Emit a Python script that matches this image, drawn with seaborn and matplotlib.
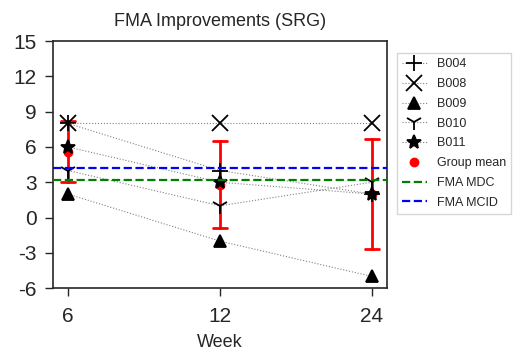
import pandas as pd
import numpy as np
import seaborn as sns
import matplotlib
matplotlib.use('Agg')
import matplotlib.pyplot as plt

weeks = ['6', '12', '24']
subjects = ['B004', 'B008', 'B009', 'B010', 'B011']
fma_b004 = [8, 4, 2]
fma_b008 = [8, 8, 8]
fma_b009 = [2, -2, -5]
fma_b010 = [4, 1, 3]
fma_b011 = [6, 3, 2]
fma_mdc = 3.2
fma_mcid = 4.25

markers = {'B004': '+', 'B008': 'x', 'B009': '^', 'B010': '1', 'B011': '*'}
marker_sizes = {'B004': 12, 'B008': 12, 'B009': 9, 'B010': 12, 'B011': 10}

values = [fma_b004, fma_b008, fma_b009, fma_b010, fma_b011]
df = pd.DataFrame({
    'subject': np.repeat(subjects, len(weeks)),
    'week': weeks * len(subjects),
    'fma': np.concatenate(values),
})

sns.set_style('ticks')
plt.rcParams['font.family'] = ['Liberation Sans', 'DejaVu Sans']
plt.rcParams['axes.unicode_minus'] = False

fig, ax = plt.subplots(figsize=(5.18, 3.51), dpi=100)
fig.subplots_adjust(left=0.102, right=0.747, top=0.883, bottom=0.179)

# group mean with sample SD error bars
sns.pointplot(data=df, x='week', y='fma', order=weeks, errorbar='sd',
              color='red', marker='o', markersize=5, linestyle='none',
              capsize=0.09, err_kws={'linewidth': 2}, label='Group mean', ax=ax, zorder=2)

for s in subjects:
    sns.pointplot(data=df[df.subject == s], x='week', y='fma', order=weeks,
                  errorbar=None, color='gray', marker=markers[s],
                  markersize=marker_sizes[s], linestyle=':', linewidth=0.8,
                  markerfacecolor='black', markeredgecolor='black',
                  markeredgewidth=1.3, label=s, ax=ax, zorder=3)

ax.axhline(fma_mdc, color='green', ls='--', lw=1.6, label='FMA MDC', zorder=4)
ax.axhline(fma_mcid, color='blue', ls='--', lw=1.6, label='FMA MCID', zorder=4)

handles, labels = ax.get_legend_handles_labels()
order = subjects + ['Group mean', 'FMA MDC', 'FMA MCID']
hmap = dict(zip(labels, handles))
ax.legend([hmap[l] for l in order], order, loc='upper left',
          bbox_to_anchor=(1.03, 0.95), fontsize=9, frameon=True,
          edgecolor='#cccccc', fancybox=False, handlelength=2.0,
          borderaxespad=0, labelspacing=0.62)

ax.set_xlim(-0.1, 2.1)
ax.set_ylim(-6, 15)
ax.set_yticks(np.arange(-6, 16, 3))
ax.tick_params(axis='both', labelsize=15, length=5.5, width=1)
ax.tick_params(axis='y', pad=6)
ax.tick_params(axis='x', pad=8)
for sp in ax.spines.values():
    sp.set_visible(True)
    sp.set_linewidth(1.2)
ax.set_xlabel('Week', fontsize=13, labelpad=6)
ax.set_ylabel('')
ax.set_title('FMA Improvements (SRG)', fontsize=13, pad=11)

fig.savefig('out.png', dpi=100)
